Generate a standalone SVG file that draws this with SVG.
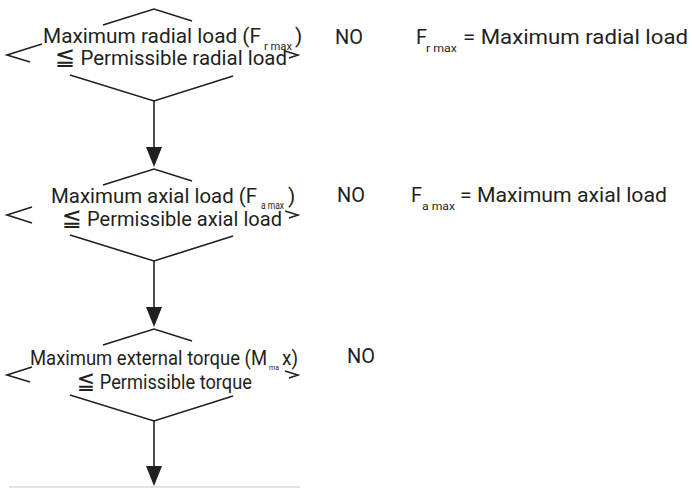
<svg xmlns="http://www.w3.org/2000/svg" width="692" height="488" viewBox="0 0 692 488">
<defs>
<style>
.ln{fill:none;stroke:#231f20;stroke-width:1.6;stroke-linejoin:miter}
.t{font-family:Roboto,"Noto Sans","DejaVu Sans",sans-serif;fill:#231f20;font-size:21px}
.r{font-family:Roboto,"Noto Sans","DejaVu Sans",sans-serif;fill:#231f20;font-size:20px}
.sub{font-size:10px}
.le{font-size:25px}
.ah{fill:#231f20;stroke:none}
</style>
<g id="diamondShape">
<polyline class="ln" points="103,25 154,9 192,21"/>
<polyline class="ln" points="70,75 154,101 233,76"/>
<polyline class="ln" points="285,51 298,55 289,58"/>
</g>
</defs>
<rect width="692" height="488" fill="#ffffff"/>

<g id="decision1">
<use href="#diamondShape"/>
<polyline class="ln" points="42,44 7,55 30,62"/>
<text class="t" x="43" y="43"><tspan textLength="218" lengthAdjust="spacingAndGlyphs">Maximum radial load (F</tspan><tspan class="sub" x="264" y="50" textLength="28" lengthAdjust="spacingAndGlyphs">r max</tspan><tspan x="295" y="43">)</tspan></text>
<text class="t" x="55" y="65" textLength="232" lengthAdjust="spacingAndGlyphs"><tspan class="le">≦</tspan> Permissible radial load</text>
</g>

<g id="decision2">
<use href="#diamondShape" y="160"/>
<polyline class="ln" points="32,207 7,215 32,223"/>
<text class="t" x="51" y="203"><tspan textLength="206" lengthAdjust="spacingAndGlyphs">Maximum axial load (F</tspan><tspan class="sub" x="261" y="209" textLength="23" lengthAdjust="spacingAndGlyphs">a max</tspan><tspan x="288" y="203">)</tspan></text>
<text class="t" x="62" y="226" textLength="220" lengthAdjust="spacingAndGlyphs"><tspan class="le">≦</tspan> Permissible axial load</text>
</g>

<g id="decision3">
<use href="#diamondShape" y="320"/>
<polyline class="ln" points="32,367 7,375 30,382"/>
<text class="t" x="30" y="365"><tspan textLength="237" lengthAdjust="spacingAndGlyphs">Maximum external torque (M</tspan><tspan x="269" y="370" style="font-size:7px" textLength="10" lengthAdjust="spacingAndGlyphs">ma</tspan><tspan x="282" y="365" textLength="16" lengthAdjust="spacingAndGlyphs">x)</tspan></text>
<text class="t" x="77" y="389" textLength="175" lengthAdjust="spacingAndGlyphs"><tspan class="le">≦</tspan> Permissible torque</text>
</g>

<g id="labels">
<text class="r" x="335" y="44" textLength="28" lengthAdjust="spacingAndGlyphs">NO</text>
<text class="r" x="416" y="44"><tspan>F</tspan><tspan class="sub" x="426" y="52" textLength="31" lengthAdjust="spacingAndGlyphs">r max</tspan><tspan x="463" y="44" textLength="225" lengthAdjust="spacingAndGlyphs">= Maximum radial load</tspan></text>

<text class="r" x="337" y="202" textLength="28" lengthAdjust="spacingAndGlyphs">NO</text>
<text class="r" x="411" y="202"><tspan>F</tspan><tspan class="sub" x="422" y="210" textLength="33" lengthAdjust="spacingAndGlyphs">a max</tspan><tspan x="460" y="202" textLength="207" lengthAdjust="spacingAndGlyphs">= Maximum axial load</tspan></text>

<text class="r" x="347" y="363" textLength="28" lengthAdjust="spacingAndGlyphs">NO</text>
</g>

<g id="connectors">
<line class="ln" x1="154" y1="101" x2="154" y2="150"/>
<polygon class="ah" points="146,147 162,147 154,167"/>
<line class="ln" x1="154" y1="261" x2="154" y2="310"/>
<polygon class="ah" points="146,307 162,307 154,327"/>
<line class="ln" x1="154" y1="421" x2="154" y2="470"/>
<polygon class="ah" points="146,466 162,466 154,486"/>
</g>

<line x1="9" y1="487" x2="300" y2="487" stroke="#c8c8c8" stroke-width="1.2"/>
</svg>
